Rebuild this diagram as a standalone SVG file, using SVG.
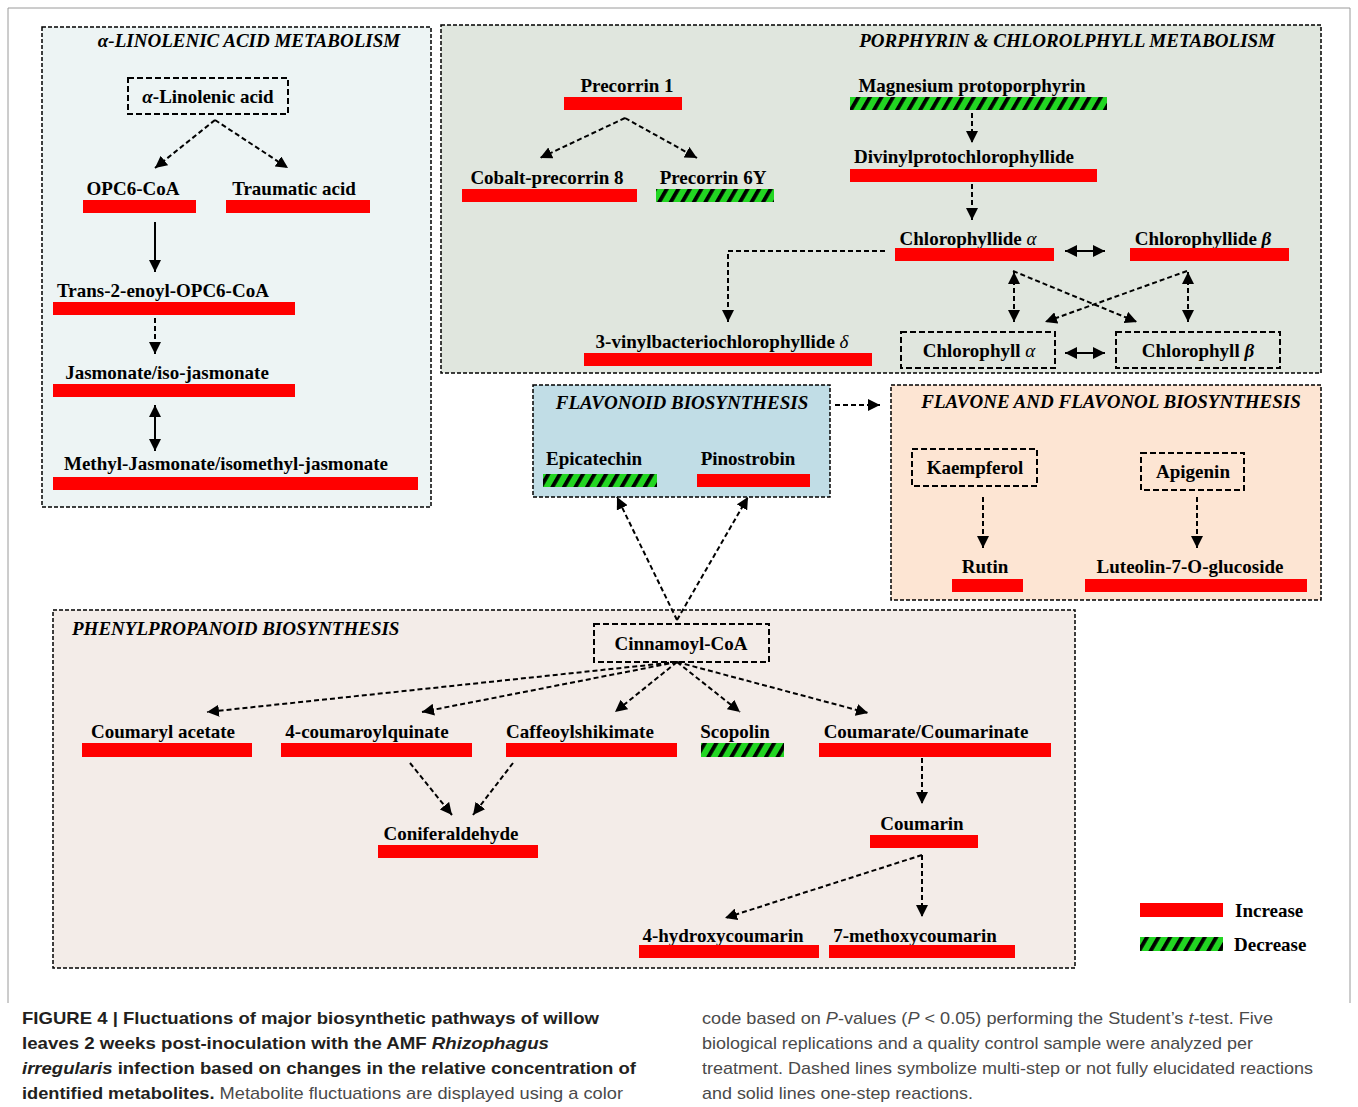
<svg xmlns="http://www.w3.org/2000/svg" width="1358" height="1107" viewBox="0 0 1358 1107">
<defs>
<pattern id="hatch" patternUnits="userSpaceOnUse" width="10" height="10" patternTransform="rotate(30)">
<rect width="10" height="10" fill="#22d622"/>
<rect width="3.8" height="10" fill="#000"/>
</pattern>
<marker id="ah" viewBox="0 0 10 10" refX="10" refY="5" markerWidth="12" markerHeight="12" markerUnits="userSpaceOnUse" orient="auto-start-reverse">
<path d="M0,0 L10,5 L0,10 z" fill="#000"/>
</marker>
</defs>
<style>
.panel{stroke:#000;stroke-width:1.5;stroke-dasharray:4 2}
.box{fill:none;stroke:#000;stroke-width:2;stroke-dasharray:6 3}
.lbl{font-family:"Liberation Serif","Times New Roman",serif;font-weight:bold;font-size:19px;fill:#000;text-anchor:middle}
.ttl{font-family:"Liberation Serif","Times New Roman",serif;font-weight:bold;font-style:italic;font-size:19px;fill:#000}
.inc{fill:#ff0000}
.dec{fill:url(#hatch)}
.d{fill:none;stroke:#000;stroke-width:2;stroke-dasharray:5 3;marker-end:url(#ah)}
.s{fill:none;stroke:#000;stroke-width:2;marker-end:url(#ah)}
.dbl{marker-start:url(#ah)}
.cap{font-family:"Liberation Sans",Arial,sans-serif;font-size:17px;fill:#4a4a4a}
.b{font-weight:bold;fill:#231f20}
.i{font-style:italic}
</style>
<rect x="0" y="0" width="1358" height="1107" fill="#fff"/>
<path d="M8,1003 V8 H1350 V1003" fill="none" stroke="#9a9a9a" stroke-width="1"/>

<g id="panels">
<rect id="p-linolenic" class="panel" x="42" y="27" width="389" height="480" fill="#edf4f4"/>
<rect id="p-porphyrin" class="panel" x="441" y="25" width="880" height="348" fill="#e0e6de"/>
<rect id="p-flavonoid" class="panel" x="533" y="385" width="297" height="112" fill="#c1dde6"/>
<rect id="p-flavone" class="panel" x="891" y="385" width="430" height="215" fill="#fde5d3"/>
<rect id="p-phenyl" class="panel" x="53" y="610" width="1022" height="358" fill="#f3ece8"/>
<text class="ttl" x="249" y="47" text-anchor="middle">α-LINOLENIC ACID METABOLISM</text>
<text class="ttl" x="1275" y="47" text-anchor="end">PORPHYRIN &amp; CHLOROLPHYLL METABOLISM</text>
<text class="ttl" x="682" y="409" text-anchor="middle">FLAVONOID BIOSYNTHESIS</text>
<text class="ttl" x="1111" y="408" text-anchor="middle">FLAVONE AND FLAVONOL BIOSYNTHESIS</text>
<text class="ttl" x="72" y="635">PHENYLPROPANOID BIOSYNTHESIS</text>
</g>

<g id="connectors">
<line class="d" x1="215" y1="120" x2="155" y2="168"/>
<line class="d" x1="215" y1="120" x2="288" y2="168"/>
<line class="s" x1="155" y1="222" x2="155" y2="272"/>
<line class="d" x1="155" y1="318" x2="155" y2="354"/>
<line class="s dbl" x1="155" y1="405" x2="155" y2="451"/>
<line class="d" x1="625" y1="118" x2="540" y2="158"/>
<line class="d" x1="625" y1="118" x2="697" y2="158"/>
<line class="d" x1="972" y1="113" x2="972" y2="143"/>
<line class="d" x1="972" y1="184" x2="972" y2="220"/>
<line class="s dbl" x1="1065" y1="251" x2="1105" y2="251"/>
<path class="d" d="M885,251 H728 V322"/>
<line class="d dbl" x1="1014" y1="272" x2="1014" y2="322"/>
<line class="d dbl" x1="1188" y1="272" x2="1188" y2="322"/>
<line class="d" x1="1013" y1="271" x2="1137" y2="322"/>
<line class="d" x1="1187" y1="271" x2="1045" y2="322"/>
<line class="s dbl" x1="1065" y1="353" x2="1105" y2="353"/>
<line class="d" x1="835" y1="405" x2="880" y2="405"/>
<line class="d" x1="677" y1="620" x2="617" y2="497"/>
<line class="d" x1="677" y1="620" x2="748" y2="497"/>
<line class="d" x1="983" y1="497" x2="983" y2="548"/>
<line class="d" x1="1197" y1="497" x2="1197" y2="548"/>
<line class="d" x1="677" y1="662" x2="207" y2="712"/>
<line class="d" x1="677" y1="662" x2="422" y2="712"/>
<line class="d" x1="677" y1="662" x2="615" y2="712"/>
<line class="d" x1="677" y1="662" x2="740" y2="712"/>
<line class="d" x1="677" y1="662" x2="868" y2="713"/>
<line class="d" x1="410" y1="763" x2="452" y2="815"/>
<line class="d" x1="513" y1="763" x2="473" y2="815"/>
<line class="d" x1="922" y1="758" x2="922" y2="804"/>
<line class="d" x1="922" y1="855" x2="725" y2="918"/>
<line class="d" x1="922" y1="855" x2="922" y2="917"/>
</g>

<g id="n-linolenic"><rect class="box" x="128" y="78" width="160" height="36"/><text class="lbl" x="208" y="103"><tspan font-style="italic">α</tspan>-Linolenic acid</text></g>
<g id="n-opc6"><text class="lbl" x="133" y="195">OPC6-CoA</text><rect class="inc" x="83" y="200" width="113" height="13"/></g>
<g id="n-traumatic"><text class="lbl" x="294" y="195">Traumatic acid</text><rect class="inc" x="226" y="200" width="144" height="13"/></g>
<g id="n-trans2"><text class="lbl" x="163" y="297">Trans-2-enoyl-OPC6-CoA</text><rect class="inc" x="53" y="302" width="242" height="13"/></g>
<g id="n-jasmonate"><text class="lbl" x="167" y="379">Jasmonate/iso-jasmonate</text><rect class="inc" x="53" y="384" width="242" height="13"/></g>
<g id="n-methyljasmonate"><text class="lbl" x="226" y="470">Methyl-Jasmonate/isomethyl-jasmonate</text><rect class="inc" x="53" y="477" width="365" height="13"/></g>

<g id="n-precorrin1"><text class="lbl" x="627" y="92">Precorrin 1</text><rect class="inc" x="564" y="97" width="118" height="13"/></g>
<g id="n-cobalt"><text class="lbl" x="547" y="184">Cobalt-precorrin 8</text><rect class="inc" x="462" y="189" width="175" height="13"/></g>
<g id="n-precorrin6y"><text class="lbl" x="713" y="184">Precorrin 6Y</text><rect class="dec" x="656" y="189" width="118" height="13"/></g>
<g id="n-mgproto"><text class="lbl" x="972" y="92">Magnesium protoporphyrin</text><rect class="dec" x="850" y="97" width="257" height="13"/></g>
<g id="n-divinyl"><text class="lbl" x="964" y="163">Divinylprotochlorophyllide</text><rect class="inc" x="850" y="169" width="247" height="13"/></g>
<g id="n-chlidea"><text class="lbl" x="968" y="245">Chlorophyllide <tspan font-style="italic" font-weight="normal">α</tspan></text><rect class="inc" x="895" y="248" width="159" height="13"/></g>
<g id="n-chlideb"><text class="lbl" x="1203" y="245">Chlorophyllide <tspan font-style="italic">β</tspan></text><rect class="inc" x="1130" y="248" width="159" height="13"/></g>
<g id="n-3vinyl"><text class="lbl" x="722" y="348">3-vinylbacteriochlorophyllide <tspan font-style="italic" font-weight="normal">δ</tspan></text><rect class="inc" x="584" y="353" width="288" height="13"/></g>
<g id="n-chla"><rect class="box" x="901" y="332" width="154" height="36"/><text class="lbl" x="979" y="357">Chlorophyll <tspan font-style="italic" font-weight="normal">α</tspan></text></g>
<g id="n-chlb"><rect class="box" x="1116" y="332" width="164" height="36"/><text class="lbl" x="1198" y="357">Chlorophyll <tspan font-style="italic">β</tspan></text></g>

<g id="n-epicatechin"><text class="lbl" x="594" y="465">Epicatechin</text><rect class="dec" x="543" y="474" width="114" height="13"/></g>
<g id="n-pinostrobin"><text class="lbl" x="748" y="465">Pinostrobin</text><rect class="inc" x="697" y="474" width="113" height="13"/></g>

<g id="n-kaempferol"><rect class="box" x="912" y="449" width="125" height="37"/><text class="lbl" x="975" y="474">Kaempferol</text></g>
<g id="n-apigenin"><rect class="box" x="1141" y="453" width="103" height="37"/><text class="lbl" x="1193" y="478">Apigenin</text></g>
<g id="n-rutin"><text class="lbl" x="985" y="573">Rutin</text><rect class="inc" x="952" y="579" width="71" height="13"/></g>
<g id="n-luteolin"><text class="lbl" x="1190" y="573">Luteolin-7-O-glucoside</text><rect class="inc" x="1085" y="579" width="222" height="13"/></g>

<g id="n-cinnamoyl"><rect class="box" x="594" y="624" width="175" height="38"/><text class="lbl" x="681" y="650">Cinnamoyl-CoA</text></g>
<g id="n-coumaryl"><text class="lbl" x="163" y="738">Coumaryl acetate</text><rect class="inc" x="82" y="743" width="170" height="14"/></g>
<g id="n-4coumaroyl"><text class="lbl" x="367" y="738">4-coumaroylquinate</text><rect class="inc" x="281" y="743" width="191" height="14"/></g>
<g id="n-caffeoyl"><text class="lbl" x="580" y="738">Caffeoylshikimate</text><rect class="inc" x="506" y="743" width="171" height="14"/></g>
<g id="n-scopolin"><text class="lbl" x="735" y="738">Scopolin</text><rect class="dec" x="701" y="743" width="83" height="14"/></g>
<g id="n-coumarate"><text class="lbl" x="926" y="738">Coumarate/Coumarinate</text><rect class="inc" x="819" y="743" width="232" height="14"/></g>
<g id="n-coniferaldehyde"><text class="lbl" x="451" y="840">Coniferaldehyde</text><rect class="inc" x="378" y="845" width="160" height="13"/></g>
<g id="n-coumarin"><text class="lbl" x="922" y="830">Coumarin</text><rect class="inc" x="870" y="835" width="108" height="13"/></g>
<g id="n-4hydroxy"><text class="lbl" x="723" y="942">4-hydroxycoumarin</text><rect class="inc" x="639" y="945" width="180" height="13"/></g>
<g id="n-7methoxy"><text class="lbl" x="915" y="942">7-methoxycoumarin</text><rect class="inc" x="829" y="945" width="186" height="13"/></g>

<g id="legend">
<rect class="inc" x="1140" y="903" width="83" height="14"/>
<text class="lbl" x="1235" y="917" style="text-anchor:start">Increase</text>
<rect class="dec" x="1140" y="937" width="83" height="14"/>
<text class="lbl" x="1234" y="951" style="text-anchor:start">Decrease</text>
</g>

<g id="caption">
<text class="cap" x="22" y="1024" textLength="577" lengthAdjust="spacingAndGlyphs"><tspan class="b">FIGURE 4 | Fluctuations of major biosynthetic pathways of willow</tspan></text>
<text class="cap" x="22" y="1049" textLength="527" lengthAdjust="spacingAndGlyphs"><tspan class="b">leaves 2 weeks post-inoculation with the AMF </tspan><tspan class="b i">Rhizophagus</tspan></text>
<text class="cap" x="22" y="1074" textLength="614" lengthAdjust="spacingAndGlyphs"><tspan class="b i">irregularis</tspan><tspan class="b"> infection based on changes in the relative concentration of</tspan></text>
<text class="cap" x="22" y="1099" textLength="601" lengthAdjust="spacingAndGlyphs"><tspan class="b">identified metabolites.</tspan> Metabolite fluctuations are displayed using a color</text>
<text class="cap" x="702" y="1024" textLength="571" lengthAdjust="spacingAndGlyphs">code based on <tspan class="i">P</tspan>-values (<tspan class="i">P</tspan> &lt; 0.05) performing the Student’s <tspan class="i">t</tspan>-test. Five</text>
<text class="cap" x="702" y="1049" textLength="551" lengthAdjust="spacingAndGlyphs">biological replications and a quality control sample were analyzed per</text>
<text class="cap" x="702" y="1074" textLength="611" lengthAdjust="spacingAndGlyphs">treatment. Dashed lines symbolize multi-step or not fully elucidated reactions</text>
<text class="cap" x="702" y="1099" textLength="271" lengthAdjust="spacingAndGlyphs">and solid lines one-step reactions.</text>
</g>
</svg>
